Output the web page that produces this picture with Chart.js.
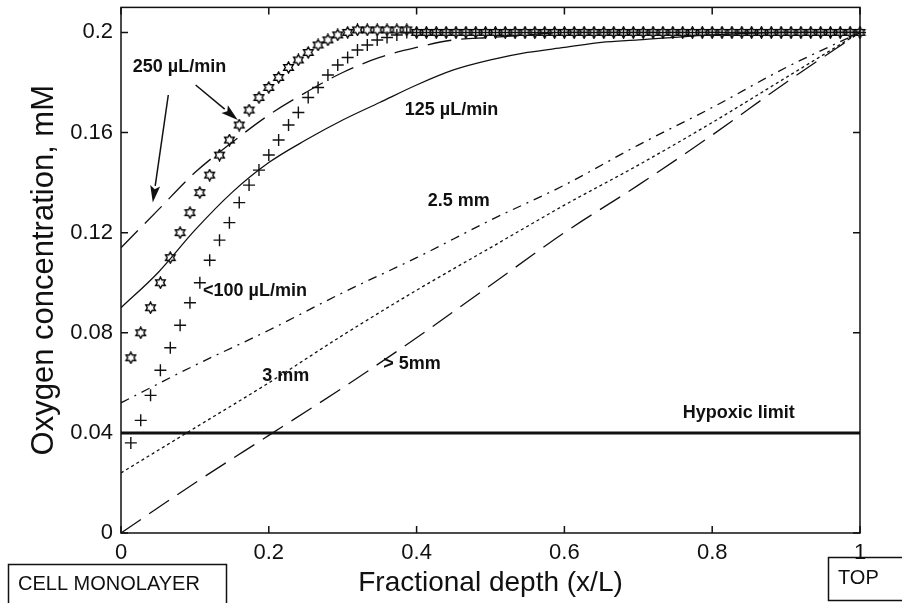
<!DOCTYPE html>
<html lang="en">
<head>
<meta charset="UTF-8">
<title>Oxygen concentration vs fractional depth</title>
<script src="https://cdn.jsdelivr.net/npm/chart.js"></script>
<style>
  html, body { margin: 0; padding: 0; background: #fff; }
  .wrap { width: 902px; height: 603px; }
</style>
</head>
<body>
<div class="wrap"><canvas id="o2Chart" width="902" height="603"></canvas></div>
<script>
// depth grid shared by the two marker series (flow-rate runs)
const markerDepth = [
  0.0133, 0.0267, 0.04, 0.0533, 0.0667, 0.08, 0.0933, 0.1067, 0.12, 0.1333,
  0.1467, 0.16, 0.1733, 0.1867, 0.2, 0.2133, 0.2267, 0.24, 0.2533, 0.2667,
  0.28, 0.2933, 0.3067, 0.32, 0.3333, 0.3467, 0.36, 0.3733, 0.3867, 0.4,
  0.4133, 0.4267, 0.44, 0.4533, 0.4667, 0.48, 0.4933, 0.5067, 0.52, 0.5333,
  0.5467, 0.56, 0.5733, 0.5867, 0.6, 0.6133, 0.6267, 0.64, 0.6533, 0.6667,
  0.68, 0.6933, 0.7067, 0.72, 0.7333, 0.7467, 0.76, 0.7733, 0.7867, 0.8,
  0.8133, 0.8267, 0.84, 0.8533, 0.8667, 0.88, 0.8933, 0.9067, 0.92, 0.9333,
  0.9467, 0.96, 0.9733, 0.9867, 1
];
// 250 uL/min (hexagram markers)
const o2Flow250 = [
  0.070, 0.080, 0.090, 0.100, 0.110, 0.120, 0.128, 0.136, 0.143, 0.151,
  0.157, 0.163, 0.169, 0.174, 0.178, 0.182, 0.186, 0.189, 0.192, 0.195,
  0.197, 0.199, 0.200, 0.201, 0.201, 0.201, 0.201, 0.201, 0.201, 0.200,
  0.200, 0.200, 0.200, 0.200, 0.200, 0.200, 0.200, 0.200, 0.200, 0.200,
  0.200, 0.200, 0.200, 0.200, 0.200, 0.200, 0.200, 0.200, 0.200, 0.200,
  0.200, 0.200, 0.200, 0.200, 0.200, 0.200, 0.200, 0.200, 0.200, 0.200,
  0.200, 0.200, 0.200, 0.200, 0.200, 0.200, 0.200, 0.200, 0.200, 0.200,
  0.200, 0.200, 0.200, 0.200, 0.200
];
// <100 uL/min (plus markers)
const o2Flow100 = [
  0.036, 0.045, 0.055, 0.065, 0.074, 0.083, 0.092, 0.100, 0.109, 0.117,
  0.124, 0.132, 0.139, 0.145, 0.151, 0.157, 0.163, 0.168, 0.174, 0.178,
  0.183, 0.187, 0.190, 0.193, 0.195, 0.197, 0.198, 0.199, 0.200, 0.200,
  0.200, 0.200, 0.200, 0.200, 0.200, 0.200, 0.200, 0.200, 0.200, 0.200,
  0.200, 0.200, 0.200, 0.200, 0.200, 0.200, 0.200, 0.200, 0.200, 0.200,
  0.200, 0.200, 0.200, 0.200, 0.200, 0.200, 0.200, 0.200, 0.200, 0.200,
  0.200, 0.200, 0.200, 0.200, 0.200, 0.200, 0.200, 0.200, 0.200, 0.200,
  0.200, 0.200, 0.200, 0.200, 0.200
];

// 250 uL/min model curve (long dashes)
const depth250 = [0, 0.05, 0.1, 0.15, 0.2, 0.25, 0.3, 0.35, 0.4, 0.45, 0.5, 0.55, 0.6, 0.7, 0.8, 0.9, 1];
const o2Model250 = [0.114, 0.129, 0.144, 0.156, 0.167, 0.176, 0.184, 0.190, 0.194, 0.197, 0.198, 0.199, 0.200, 0.200, 0.200, 0.200, 0.200];
// 125 uL/min (solid)
const depth125 = [0, 0.05, 0.1, 0.15, 0.2, 0.25, 0.3, 0.35, 0.4, 0.45, 0.5, 0.55, 0.6, 0.65, 0.7, 0.8, 0.9, 1];
const o2Model125 = [0.090, 0.104, 0.121, 0.136, 0.148, 0.157, 0.165, 0.172, 0.179, 0.185, 0.189, 0.192, 0.194, 0.196, 0.197, 0.199, 0.200, 0.200];
// static culture, three scaffold thicknesses
const depthStatic = [0, 0.1, 0.2, 0.3, 0.4, 0.5, 0.6, 0.7, 0.8, 0.9, 1];
const o2Thick25 = [0.052, 0.067, 0.081, 0.096, 0.110, 0.125, 0.139, 0.155, 0.170, 0.186, 0.200];
const o2Thick3 = [0.024, 0.042, 0.060, 0.079, 0.097, 0.114, 0.131, 0.147, 0.164, 0.182, 0.200];
const o2Thick5 = [0.000, 0.020, 0.039, 0.058, 0.078, 0.099, 0.120, 0.139, 0.159, 0.180, 0.200];
// hypoxic limit
const hypoxicDepth = [0, 1];
const hypoxicO2 = [0.04, 0.04];

const xTicks = [0, 0.2, 0.4, 0.6, 0.8, 1];
const yTicks = [0, 0.04, 0.08, 0.12, 0.16, 0.2];

const ink = '#111';
const fontFamily = '"Liberation Sans", Arial, Helvetica, sans-serif';

const notes = [
  { text: '250 \u00b5L/min', x: 0.016, y: 0.1863 },
  { text: '125 \u00b5L/min', x: 0.384, y: 0.169 },
  { text: '2.5 mm', x: 0.415, y: 0.1326 },
  { text: '<100 \u00b5L/min', x: 0.111, y: 0.0967 },
  { text: '3 mm', x: 0.191, y: 0.0629 },
  { text: '> 5mm', x: 0.355, y: 0.0677 },
  { text: 'Hypoxic limit', x: 0.760, y: 0.0478 }
];
const arrows = [
  { from: [0.064, 0.175], to: [0.043, 0.132] },
  { from: [0.101, 0.179], to: [0.158, 0.165] }
];

function pairs(xs, ys) {
  return xs.map((x, i) => ({ x: x, y: ys[i] }));
}

// hollow six-pointed star used as a point style
function hexagram(size) {
  const c = document.createElement('canvas');
  c.width = size; c.height = size;
  const g = c.getContext('2d');
  const R = size / 2 - 1, r = R / Math.sqrt(3), m = size / 2;
  g.beginPath();
  for (let k = 0; k < 12; k++) {
    const ang = -Math.PI / 2 + k * Math.PI / 6;
    const rad = k % 2 === 0 ? R : r;
    const px = m + rad * Math.cos(ang), py = m + rad * Math.sin(ang);
    k === 0 ? g.moveTo(px, py) : g.lineTo(px, py);
  }
  g.closePath();
  g.strokeStyle = '#000';
  g.lineWidth = 1.4;
  g.stroke();
  return c;
}

function curve(xs, ys, dash, width) {
  return {
    data: pairs(xs, ys),
    showLine: true,
    borderColor: ink,
    borderWidth: width || 1.3,
    borderDash: dash,
    pointRadius: 0,
    cubicInterpolationMode: 'monotone',
    fill: false
  };
}

// frame, inward ticks, labels, arrows and the two boxes under the axis
const decorations = {
  id: 'decorations',
  afterDraw(chart) {
    const { ctx, chartArea: a, scales: { x, y } } = chart;
    ctx.save();
    ctx.strokeStyle = ink;
    ctx.fillStyle = ink;
    ctx.lineWidth = 1.5;
    ctx.strokeRect(a.left, a.top, a.right - a.left, a.bottom - a.top);

    ctx.beginPath();
    x.ticks.forEach(t => {
      const px = x.getPixelForValue(t.value);
      ctx.moveTo(px, a.bottom); ctx.lineTo(px, a.bottom - 7);
      ctx.moveTo(px, a.top); ctx.lineTo(px, a.top + 7);
    });
    y.ticks.forEach(t => {
      const py = y.getPixelForValue(t.value);
      ctx.moveTo(a.left, py); ctx.lineTo(a.left + 7, py);
      ctx.moveTo(a.right, py); ctx.lineTo(a.right - 7, py);
    });
    ctx.stroke();

    ctx.font = 'bold 18px ' + fontFamily;
    ctx.textAlign = 'left';
    ctx.textBaseline = 'middle';
    notes.forEach(n => {
      ctx.fillText(n.text, x.getPixelForValue(n.x), y.getPixelForValue(n.y));
    });

    arrows.forEach(ar => {
      const x0 = x.getPixelForValue(ar.from[0]), y0 = y.getPixelForValue(ar.from[1]);
      const x1 = x.getPixelForValue(ar.to[0]), y1 = y.getPixelForValue(ar.to[1]);
      const ang = Math.atan2(y1 - y0, x1 - x0);
      const head = 17, half = 5;
      ctx.lineWidth = 1.5;
      ctx.beginPath();
      ctx.moveTo(x0, y0);
      ctx.lineTo(x1 - head * Math.cos(ang), y1 - head * Math.sin(ang));
      ctx.stroke();
      ctx.beginPath();
      ctx.moveTo(x1, y1);
      ctx.lineTo(x1 - head * Math.cos(ang) + half * Math.sin(ang), y1 - head * Math.sin(ang) - half * Math.cos(ang));
      ctx.lineTo(x1 - head * 0.8 * Math.cos(ang), y1 - head * 0.8 * Math.sin(ang));
      ctx.lineTo(x1 - head * Math.cos(ang) - half * Math.sin(ang), y1 - head * Math.sin(ang) + half * Math.cos(ang));
      ctx.closePath();
      ctx.fill();
    });

    ctx.lineWidth = 1.5;
    ctx.strokeRect(8.5, 564.5, 218, 50);
    ctx.strokeRect(828.5, 557.5, 90, 43);
    ctx.font = '20px ' + fontFamily;
    ctx.fillText('CELL MONOLAYER', 18, 584);
    ctx.fillText('TOP', 838, 578);
    ctx.restore();
  }
};

const starStyle = hexagram(13);

new Chart(document.getElementById('o2Chart'), {
  type: 'scatter',
  data: {
    datasets: [
      curve(hypoxicDepth, hypoxicO2, [], 3),
      curve(depthStatic, o2Thick5, [24, 10]),
      curve(depthStatic, o2Thick3, [3, 3]),
      curve(depthStatic, o2Thick25, [9, 6, 2, 6]),
      curve(depth125, o2Model125, []),
      curve(depth250, o2Model250, [24, 10]),
      {
        data: pairs(markerDepth, o2Flow100),
        showLine: false,
        pointStyle: 'cross',
        pointRadius: 6,
        borderColor: ink,
        borderWidth: 1.4,
        clip: false
      },
      {
        data: pairs(markerDepth, o2Flow250),
        showLine: false,
        pointStyle: starStyle,
        pointRadius: 6,
        borderColor: ink,
        clip: false
      }
    ]
  },
  options: {
    responsive: false,
    animation: false,
    events: [],
    layout: { padding: { top: 6, right: 42, left: 0, bottom: 0 } },
    plugins: { legend: { display: false }, tooltip: { enabled: false } },
    scales: {
      x: {
        type: 'linear',
        min: 0,
        max: 1,
        grid: { display: false, drawTicks: false },
        border: { display: false },
        afterBuildTicks: s => { s.ticks = xTicks.map(v => ({ value: v })); },
        afterFit: s => {
          s.height = 70;
          s.paddingLeft = 0;
          s.paddingRight = 0;
        },
        ticks: {
          padding: 7,
          color: ink,
          font: { family: fontFamily, size: 22 },
          callback: v => String(v)
        },
        title: {
          display: true,
          text: 'Fractional depth (x/L)',
          color: ink,
          font: { family: fontFamily, size: 28 },
          padding: { top: 0, bottom: 3 }
        }
      },
      y: {
        type: 'linear',
        min: 0,
        max: 0.21,
        grid: { display: false, drawTicks: false },
        border: { display: false },
        afterBuildTicks: s => { s.ticks = yTicks.map(v => ({ value: v })); },
        afterFit: s => {
          s.width = 121;
          s.paddingTop = 0;
          s.paddingBottom = 0;
        },
        ticks: {
          padding: 8,
          color: ink,
          font: { family: fontFamily, size: 22 },
          callback: v => String(v)
        },
        title: {
          display: true,
          text: 'Oxygen concentration, mM',
          color: ink,
          font: { family: fontFamily, size: 31 },
          padding: { top: 26, bottom: 0 }
        }
      }
    }
  },
  plugins: [decorations]
});
</script>
</body>
</html>
